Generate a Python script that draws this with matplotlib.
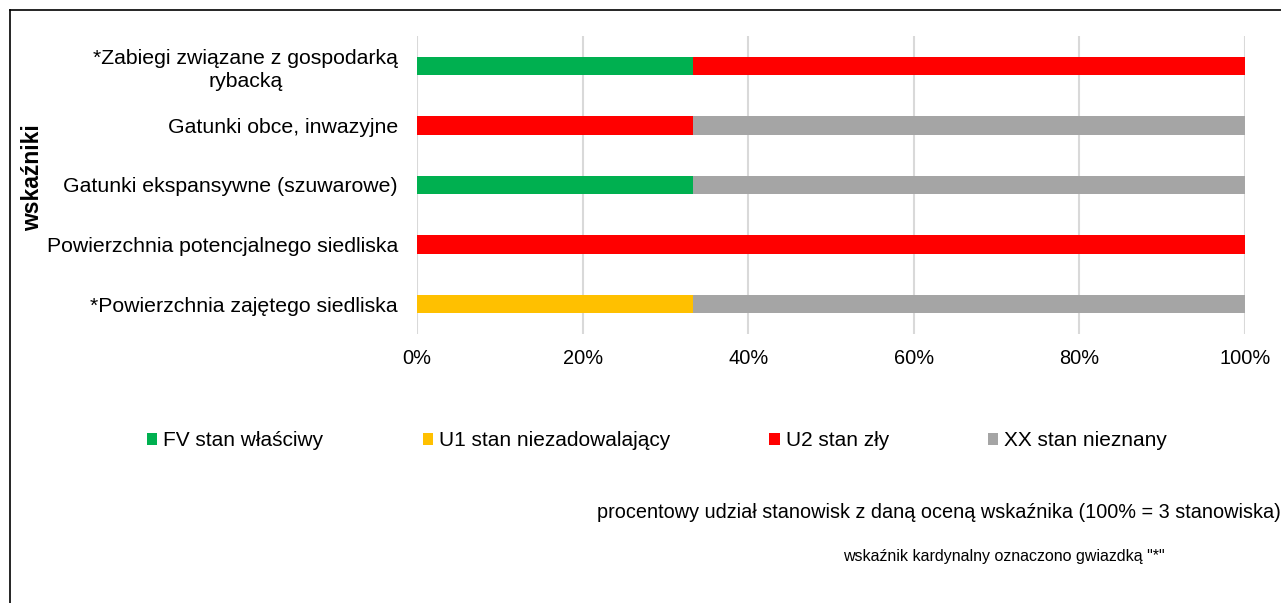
import matplotlib
matplotlib.use("Agg")
import matplotlib.pyplot as plt
from matplotlib.patches import Patch
from matplotlib.lines import Line2D
import numpy as np

plt.rcParams['font.family'] = ['Liberation Sans', 'DejaVu Sans']

categories = [
    "*Zabiegi związane z gospodarką\nrybacką",
    "Gatunki obce, inwazyjne",
    "Gatunki ekspansywne (szuwarowe)",
    "Powierzchnia potencjalnego siedliska",
    "*Powierzchnia zajętego siedliska",
]
total_sites = 3
FV = [1, 0, 1, 0, 0]
U1 = [0, 0, 0, 0, 1]
U2 = [2, 1, 0, 3, 0]
XX = [0, 2, 2, 0, 2]
series_names = ["FV stan właściwy", "U1 stan niezadowalający", "U2 stan zły", "XX stan nieznany"]
series_colors = ["#00B050", "#FFC000", "#FF0000", "#A5A5A5"]
xticks = [0, 20, 40, 60, 80, 100]
xticklabels = ["0%", "20%", "40%", "60%", "80%", "100%"]

fig = plt.figure(figsize=(12.81, 6.03), dpi=100)
ax = fig.add_axes([417/1281, 1-334/603, (1245-417)/1281, (334-36)/603])

y = np.arange(len(categories))[::-1]
left = np.zeros(len(categories))
for vals, name, col in zip([FV, U1, U2, XX], series_names, series_colors):
    pct = np.array(vals) / total_sites * 100
    ax.barh(y, pct, left=left, height=0.31, color=col, label=name, zorder=3)
    left += pct

ax.set_xlim(0, 100)
ax.set_ylim(-0.5, len(categories) - 0.5)
ax.set_xticks(xticks)
ax.set_xticklabels(xticklabels, fontsize=14.4)
ax.set_yticks(y)
ax.set_yticklabels(categories, fontsize=15.3, multialignment='center', linespacing=1.25)
ax.tick_params(axis='both', length=0)
ax.tick_params(axis='x', pad=11)
ax.tick_params(axis='y', pad=13.7)
ax.grid(axis='x', color='#D9D9D9', linewidth=1.5, zorder=0)
for s in ax.spines.values():
    s.set_visible(False)

fig.text(33/1281, 1-178/603, "wskaźniki", rotation=90, fontsize=16.5, fontweight='bold',
         ha='center', va='center')

handles = [Patch(facecolor=c, edgecolor='none') for c in series_colors]
fig.legend(handles, series_names, loc='center left', bbox_to_anchor=(147/1281, 1-441/603),
           ncol=4, frameon=False, prop={'size': 15},
           handlelength=0.5, handleheight=0.5, handletextpad=0.29, columnspacing=4.75,
           borderaxespad=0, borderpad=0)

fig.text(597/1281, 1-512/603, "procentowy udział stanowisk z daną oceną wskaźnika (100% = 3 stanowiska)",
         fontsize=14.3, ha='left', va='center')
fig.text(843/1281, 1-556/603, 'wskaźnik kardynalny oznaczono gwiazdką "*"',
         fontsize=11.5, ha='left', va='center')

fig.add_artist(Line2D([9.5/1281, 9.5/1281], [0, 1-10/603], transform=fig.transFigure, color='black', lw=1.2))
fig.add_artist(Line2D([9.5/1281, 1], [1-10/603, 1-10/603], transform=fig.transFigure, color='black', lw=1.2))

fig.savefig("out.png", dpi=100)
